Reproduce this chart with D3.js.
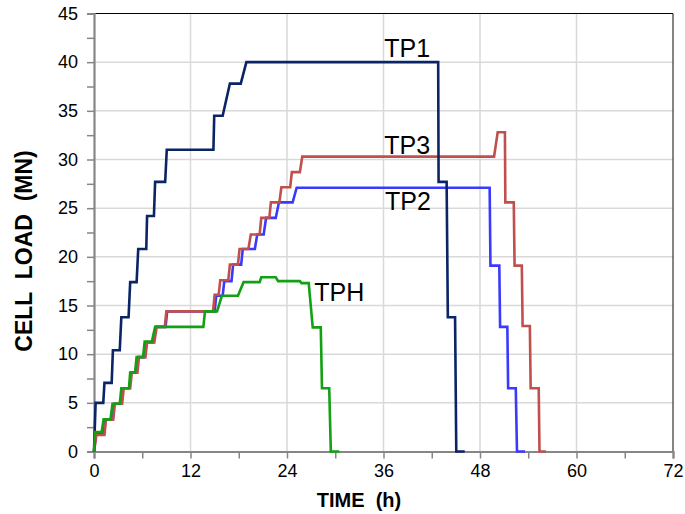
<!DOCTYPE html>
<html>
<head>
<meta charset="utf-8">
<script src="https://cdn.jsdelivr.net/npm/d3@7/dist/d3.min.js"></script>
<style>
  html, body { margin: 0; padding: 0; background: #fff; }
  svg { display: block; }
  text { font-family: "Liberation Sans", Arial, sans-serif; fill: #000; }
</style>
</head>
<body>
<svg id="chart" width="685" height="514"></svg>
<script>
// ---------- data ----------
const seriesNames = ["TP2", "TP3", "TP1", "TPH"];
const seriesColors = ["#3a3aff", "#c0504d", "#0a2466", "#13a013"];

// [time (h), cell load (MN)]
const tp1 = [[0,0],[0.2,5.0],[1.15,5.0],[1.3,7.05],[2.2,7.05],[2.35,10.4],[3.2,10.4],[3.4,13.8],[4.3,13.8],[4.5,17.4],[5.3,17.4],[5.5,20.8],[6.5,20.8],[6.6,24.2],[7.45,24.2],[7.6,27.7],[8.85,27.7],[9.05,31.0],[14.85,31.0],[14.95,34.5],[16.0,34.5],[16.9,37.8],[18.25,37.8],[18.95,40.0],[42.8,40.0],[42.85,27.7],[43.85,27.7],[44.0,13.8],[44.9,13.8],[45.05,0],[46.1,0]];
const tp2 = [[0,0],[0.25,1.8],[1.2,1.8],[1.4,3.3],[2.3,3.3],[2.5,4.9],[3.4,4.9],[3.6,6.5],[4.4,6.5],[4.6,8.1],[5.3,8.1],[5.5,9.7],[6.3,9.7],[6.5,11.2],[7.4,11.2],[7.7,12.8],[8.9,12.8],[9.1,14.4],[15.0,14.4],[15.2,16.0],[16.0,16.0],[16.2,17.5],[17.1,17.5],[17.3,19.2],[18.3,19.2],[18.5,20.8],[20.0,20.8],[20.3,22.3],[21.1,22.3],[21.4,24.0],[22.6,24.0],[23.0,25.6],[24.7,25.6],[25.2,27.1],[49.2,27.1],[49.3,19.1],[50.4,19.1],[50.5,12.8],[51.4,12.8],[51.5,6.5],[52.45,6.5],[52.6,0],[53.6,0]];
const tp3 = [[0,0],[0.3,1.7],[1.3,1.7],[1.5,3.3],[2.4,3.3],[2.6,4.9],[3.5,4.9],[3.7,6.5],[4.5,6.5],[4.7,8.1],[5.4,8.1],[5.6,9.7],[6.4,9.7],[6.6,11.2],[7.5,11.2],[7.8,12.8],[8.8,12.8],[9.0,14.4],[14.8,14.4],[15.0,16.1],[15.5,16.1],[15.7,17.6],[16.7,17.6],[16.9,19.2],[17.9,19.2],[18.1,20.8],[19.2,20.8],[19.5,22.3],[20.6,22.3],[20.8,24.0],[21.8,24.0],[22.0,25.6],[23.05,25.6],[23.3,27.15],[24.4,27.15],[24.6,28.7],[25.6,28.7],[25.9,30.3],[49.75,30.3],[50.2,32.8],[51.1,32.8],[51.15,25.6],[52.2,25.6],[52.3,19.1],[53.2,19.1],[53.3,12.9],[54.2,12.9],[54.3,6.5],[55.3,6.5],[55.4,0],[56.2,0]];
const tph = [[0,0],[0.15,2.0],[0.95,2.0],[1.2,3.3],[2.05,3.3],[2.3,4.9],[3.2,4.9],[3.4,6.5],[4.35,6.5],[4.5,8.1],[5.1,8.1],[5.3,9.7],[6.1,9.7],[6.3,11.3],[7.2,11.3],[7.6,12.8],[13.6,12.8],[13.8,14.4],[15.3,14.4],[15.9,16.0],[17.9,16.0],[18.6,17.4],[20.6,17.4],[20.8,17.9],[22.6,17.9],[22.9,17.5],[25.6,17.5],[25.8,17.3],[26.7,17.3],[27.2,12.75],[28.2,12.75],[28.35,6.5],[29.25,6.5],[29.45,0],[30.5,0]];

const xTickValues = [0, 12, 24, 36, 48, 60, 72];
const yTickValues = [0, 5, 10, 15, 20, 25, 30, 35, 40, 45];
const xTitle = "TIME  (h)";
const yTitle = "CELL  LOAD  (MN)";

// ---------- layout ----------
const svg = d3.select("#chart");
const L = 94, R = 673, T = 13.5, B = 451.5;
const x = d3.scaleLinear().domain([0, 72]).range([L, R]);
const y = d3.scaleLinear().domain([0, 45]).range([B, T]);

const gridColor = "#d9d9d9";
const axisColor = "#868686";

// gridlines
svg.append("g").selectAll("line").data(yTickValues.filter(v => v > 0 && v < 45)).join("line")
  .attr("x1", L).attr("x2", R).attr("y1", d => y(d)).attr("y2", d => y(d))
  .attr("stroke", gridColor).attr("stroke-width", 1.5);
svg.append("g").selectAll("line").data(xTickValues.filter(v => v > 0 && v < 72)).join("line")
  .attr("y1", T).attr("y2", B).attr("x1", d => x(d)).attr("x2", d => x(d))
  .attr("stroke", gridColor).attr("stroke-width", 1.5);

// top & right border
svg.append("line").attr("x1", L).attr("x2", R).attr("y1", T).attr("y2", T)
  .attr("stroke", "#000").attr("stroke-width", 1.2);
svg.append("line").attr("x1", R).attr("x2", R).attr("y1", T).attr("y2", B)
  .attr("stroke", "#333").attr("stroke-width", 1.2);

// y axis
const yAxis = d3.axisLeft(y).tickValues(d3.range(0, 45.01, 2.5)).tickSize(7)
  .tickFormat(d => yTickValues.includes(d) ? d : "").tickPadding(9);
const gy = svg.append("g").attr("transform", `translate(${L},0)`).call(yAxis);
gy.select(".domain").attr("stroke", axisColor).attr("stroke-width", 2.2);
gy.selectAll(".tick line").attr("stroke", axisColor).attr("stroke-width", 1.5);
gy.selectAll(".tick text").attr("font-size", 18).attr("font-family", "Liberation Sans, Arial, sans-serif")
  .attr("fill", "#000");

// x axis
const xAxis = d3.axisBottom(x).tickValues(d3.range(0, 72.01, 6)).tickSize(7)
  .tickFormat(d => xTickValues.includes(d) ? d : "").tickPadding(6);
const gx = svg.append("g").attr("transform", `translate(0,${B})`).call(xAxis);
gx.select(".domain").attr("stroke", axisColor).attr("stroke-width", 2.2);
gx.selectAll(".tick line").attr("stroke", axisColor).attr("stroke-width", 1.5);
gx.selectAll(".tick text").attr("font-size", 18).attr("font-family", "Liberation Sans, Arial, sans-serif")
  .attr("fill", "#000");

// series lines
const series = [tp2, tp3, tp1, tph];
const line = d3.line().x(d => x(d[0])).y(d => y(d[1]));
svg.append("g").selectAll("path").data(series).join("path")
  .attr("d", d => line(d))
  .attr("fill", "none")
  .attr("stroke", (d, i) => seriesColors[i])
  .attr("stroke-width", 2.6)
  .attr("stroke-linejoin", "miter");

// line labels (anchored in data units)
const labelAnchors = { TP1: [36.1, 40.5], TP3: [36.1, 30.6], TP2: [36.2, 24.8], TPH: [27.4, 15.45] };
svg.append("g").selectAll("text").data(["TP1", "TP3", "TP2", "TPH"]).join("text")
  .attr("x", d => x(labelAnchors[d][0])).attr("y", d => y(labelAnchors[d][1]))
  .attr("font-size", 25)
  .text(d => d);

// axis titles
svg.append("text").attr("x", 359).attr("y", 507).attr("text-anchor", "middle")
  .attr("font-size", 20).attr("font-weight", "bold").style("white-space", "pre").text(xTitle);
svg.append("text").attr("transform", "translate(32,251) rotate(-90)").attr("text-anchor", "middle")
  .attr("font-size", 23).attr("font-weight", "bold").style("white-space", "pre").text(yTitle);
</script>
</body>
</html>
